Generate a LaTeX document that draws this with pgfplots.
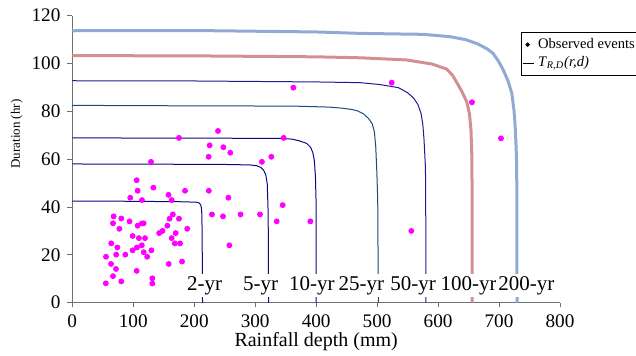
\documentclass[border=0pt]{standalone}
\usepackage{pgfplots}
\pgfplotsset{compat=1.18}
\usepackage{fontspec}
\setmainfont{Liberation Serif}
\definecolor{navy1}{HTML}{0A0A80}
\definecolor{teal1}{HTML}{1B4A78}
\definecolor{navy2}{HTML}{1A1A96}
\definecolor{rose}{HTML}{D39090}
\definecolor{steel}{HTML}{90AAD4}
\definecolor{axgray}{HTML}{707070}
\definecolor{evpink}{RGB}{255,0,255}
\begin{document}
\begin{tikzpicture}
\begin{axis}[
  at={(0,0)}, anchor=south west,
  scale only axis, width=243.85pt, height=143.5pt,
  xmin=0, xmax=800, ymin=0, ymax=120,
  xtick={0,100,...,800}, ytick={0,20,...,120},
  axis x line*=bottom, axis y line*=left,
  axis line style={axgray, line width=0.5pt},
  tick align=outside, major tick length=2.4pt,
  tick style={axgray, line width=0.5pt},
  /pgf/number format/assume math mode=true,
  ticklabel style={font=\fontsize{9.6}{11}\selectfont},
  xlabel={Rainfall depth (mm)},
  xlabel style={font=\fontsize{10}{12}\selectfont, at={(axis description cs:0.5,0)}, anchor=base, yshift=-22pt},
  clip=false,
  legend style={at={(0.919,0.942)}, anchor=north west, draw=black, line width=0.5pt,
    font=\fontsize{7.3}{8}\selectfont, inner sep=0.6pt, row sep=-1.2pt,
    legend cell align=left},
  legend image code/.code={},
]
% curves
\addplot[navy1, line width=0.5pt, forget plot] coordinates {
(0,42.5) (100,42.4) (180,42.2) (204,42.0) (208,41.7) (210.5,41.0) (211.8,39.6) (212.5,37) (212.9,30) (213.2,20) (213.6,0)};
\addplot[navy1, line width=0.5pt, forget plot] coordinates {
(0,58.0) (150,57.9) (250,57.8) (291,57.6) (302,57.3) (309,56.6) (314,55.3) (317.5,53.3) (319.8,49.6) (321,40) (321.5,30) (322,0)};
\addplot[navy1, line width=0.5pt, forget plot] coordinates {
(0,68.9) (200,68.8) (340,68.7) (360,68.4) (372,67.7) (384.5,66.6) (391,64.9) (394.5,62.8) (397,59.5) (398.8,53) (399.8,43) (400,0)};
\addplot[teal1, line width=0.5pt, forget plot] coordinates {
(0,82.5) (200,82.3) (362,82.2) (420,81.8) (444,81.3) (458,80.8) (468,80.2) (478,78.9) (486,77.0) (492,74.8) (495.5,71.5) (497.8,65) (499.5,55) (501,43) (502,0)};
\addplot[navy2, line width=0.5pt, forget plot] coordinates {
(0,92.8) (200,92.7) (400,92.3) (472,92.0) (505,91.2) (535,89.9) (550,87.8) (560,85.5) (567,82.8) (572,79.2) (575,74.5) (577,68) (579,58) (579.7,49.9) (580,0)};
\addplot[rose, line width=1.5pt, forget plot] coordinates {
(0,103.3) (200,103.2) (400,102.8) (472,102.4) (548,101.5) (590,99.8) (614,97.7) (624,95.0) (632,91.5) (640,87.8) (647,84.0) (651.5,79) (654,72) (655.3,62) (655.7,50) (656,0)};
\addplot[steel, line width=1.5pt, forget plot] coordinates {
(0,113.7) (200,113.8) (400,113.2) (472,112.6) (576,112.2) (620,111.2) (645,110.0) (665,108.2) (680,106.2) (690,104.3) (699,101.0) (707,97.3) (715,92.5) (721,87.5) (724.5,80.5) (726.5,73.6) (728,65) (729,56.9) (729.5,0)};
% curve labels
\foreach \xx/\lab in {217/2-yr, 309/5-yr, 393/10-yr, 474/25-yr, 559/50-yr, 650/100-yr, 745/200-yr}{
  \edef\tmp{\noexpand\node[fill=white, inner sep=1pt, anchor=base, font=\noexpand\fontsize{10.5}{12}\noexpand\selectfont] at (axis cs:\xx,5.3) {\lab};}
  \tmp
}
% observed events
\addplot[only marks, mark=*, mark size=1.25pt, color=evpink, mark options={fill=evpink, draw=evpink}, forget plot] coordinates {
(362.6,89.9) (239,71.8) (175,68.9) (346.7,68.9) (225.3,65.8) (247.8,65.0) (259.2,62.7)
(223.7,61.0) (326.5,61.0) (129.1,58.9) (311,58.9) (105.6,51.2) (107.2,46.8) (133,48.1)
(95.0,43.9) (114.3,42.9) (184.9,46.8) (224,46.8) (256,43.9) (157.8,45.1) (163,42.9)
(345.1,40.8) (229,36.9) (247.2,36.1) (276,36.9) (307.9,36.9) (335.3,34.0) (390.5,34.0)
(257.6,24.0) (67.8,36.1) (80.4,35.2) (66.8,33.2) (77.2,30.9) (93.9,34.0) (107.2,32.2)
(114,33.1) (117,33.2) (99,27.9) (109.2,27.0) (119.3,27.0) (63.8,24.8) (73.9,23.1)
(99,21.9) (106.1,23.1) (114,24.0) (117.1,21.1) (122.8,19.2) (129.7,21.9) (55.3,19.2)
(72,20.1) (87,20.1) (63.5,16.2) (71.7,14.1) (105.6,13.3) (66.8,11.1) (55,8.1)
(80.4,8.9) (131.3,10.2) (131.3,8.0) (142.5,29.1) (148,30.0) (155.9,32.2) (159.5,35.1)
(164.9,36.9) (175,35.1) (188.5,30.9) (169.6,29.1) (163,27.0) (168.2,24.8) (176.7,24.8)
(158.1,16.2) (180,17.2) (523.9,92.0) (655.6,83.8) (703.2,68.7) (556.1,30.0)
};
% legend
\addlegendimage{legend image code/.code={\fill[black] (2.5pt,0pt) circle (0.8pt);}}
\addlegendentry{Observed events}
\addlegendimage{legend image code/.code={\draw[black, line width=0.4pt] (0pt,0pt) -- (5.5pt,0pt);}}
\addlegendentry{\textit{T}\textsubscript{\textit{R,D}}\textit{(r,d)}}
\end{axis}
\node[rotate=90, anchor=base, font=\fontsize{6.5}{8}\selectfont] at (-26.2pt,84.3pt) {Duration (hr)};
\pgfresetboundingbox
\path[use as bounding box] (-36.15pt,-26.65pt) rectangle (281.85pt,151.35pt);
\end{tikzpicture}
\end{document}
